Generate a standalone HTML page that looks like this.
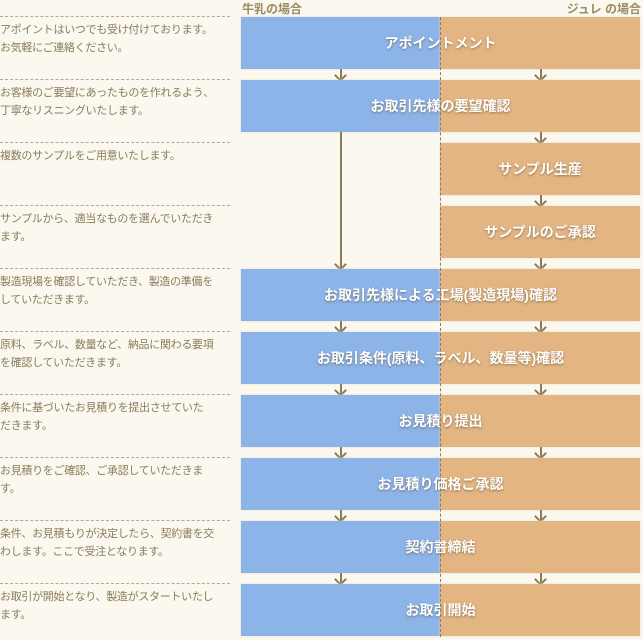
<!DOCTYPE html>
<html><head><meta charset="utf-8">
<style>
body{margin:0;width:643px;height:640px;background:#fbf9ef;overflow:hidden;font-family:"Liberation Sans","Noto Sans CJK JP",sans-serif;position:relative}
.hdr{position:absolute;top:0;font-size:12px;font-weight:bold;color:#9c8a62}
.desc{position:absolute;left:0;width:230px;border-top:1px dashed #b8aa88;padding-top:4px;font-size:11px;line-height:18px;color:#8a7b5c;letter-spacing:-0.3px}
.box{position:absolute;height:52px;box-shadow:0 0 2px #e0d8c0}
.blue{background:#8cb4e9}
.orange{background:#e2b582}
.lbl{position:absolute;height:52px;line-height:52px;text-align:center;color:#fff;font-weight:bold;font-size:14px;text-shadow:0 1px 2px rgba(90,70,40,.6)}
.arr{position:absolute;width:0;border-left:2px solid #8c7b55}
.head{position:absolute;width:7px;height:7px;border-right:2px solid #8c7b55;border-bottom:2px solid #8c7b55;transform:rotate(45deg)}
.vline{position:absolute;left:440px;top:17px;height:620px;border-left:1px dashed #8c7b55}
</style></head><body>
<div class="hdr" style="left:242px">牛乳の場合</div>
<div class="hdr" style="right:2px">ジュレ の場合</div>
<div id="c"></div>
<script>
var steps=[
 ["アポイントはいつでも受け付けております。<br>お気軽にご連絡ください。","アポイントメント","both"],
 ["お客様のご要望にあったものを作れるよう、<br>丁寧なリスニングいたします。","お取引先様の要望確認","both"],
 ["複数のサンプルをご用意いたします。","サンプル生産","orange"],
 ["サンプルから、適当なものを選んでいただき<br>ます。","サンプルのご承認","orange"],
 ["製造現場を確認していただき、製造の準備を<br>していただきます。","お取引先様による工場(製造現場)確認","both"],
 ["原料、ラベル、数量など、納品に関わる要項<br>を確認していただきます。","お取引条件(原料、ラベル、数量等)確認","both"],
 ["条件に基づいたお見積りを提出させていた<br>だきます。","お見積り提出","both"],
 ["お見積りをご確認、ご承認していただきま<br>す。","お見積り価格ご承認","both"],
 ["条件、お見積もりが決定したら、契約書を交<br>わします。ここで受注となります。","契約書締結","both"],
 ["お取引が開始となり、製造がスタートいたし<br>ます。","お取引開始","both"]
];
var c=document.getElementById('c'),h='';
function arrow(x,y1,y2,n){h+='<div class="arr" style="left:'+x+'px;top:'+y1+'px;height:'+(y2-y1)+'px"></div><div class="head" style="left:'+(x-4)+'px;top:'+(y2-9)+'px"></div>';}
steps.forEach(function(s,i){
 var t=17+63*i;
 h+='<div class="desc" style="top:'+(t-1)+'px">'+s[0]+'</div>';
 if(s[2]=='both'){
  h+='<div class="box blue" style="left:241px;width:199px;top:'+t+'px"></div>';
  h+='<div class="box orange" style="left:440px;width:200px;top:'+t+'px"></div>';
  h+='<div class="lbl" style="left:241px;width:399px;top:'+t+'px">'+s[1]+'</div>';
 }else{
  h+='<div class="box orange" style="left:440px;width:200px;top:'+t+'px"></div>';
  h+='<div class="lbl" style="left:440px;width:200px;top:'+t+'px">'+s[1]+'</div>';
 }
 if(i<steps.length-1){
  var b=t+52,nt=t+63;
  arrow(540,b,nt,'jelly-arrow-'+(i+1));
  if(s[2]=='both'&&steps[i+1][2]=='both')arrow(340,b,nt,'milk-arrow-'+(i+1));
  if(i==1)arrow(340,b,17+63*4,'milk-skip-arrow');
 }
});
h+='<div class="vline"></div>';
c.innerHTML=h;
</script>
</body></html>
